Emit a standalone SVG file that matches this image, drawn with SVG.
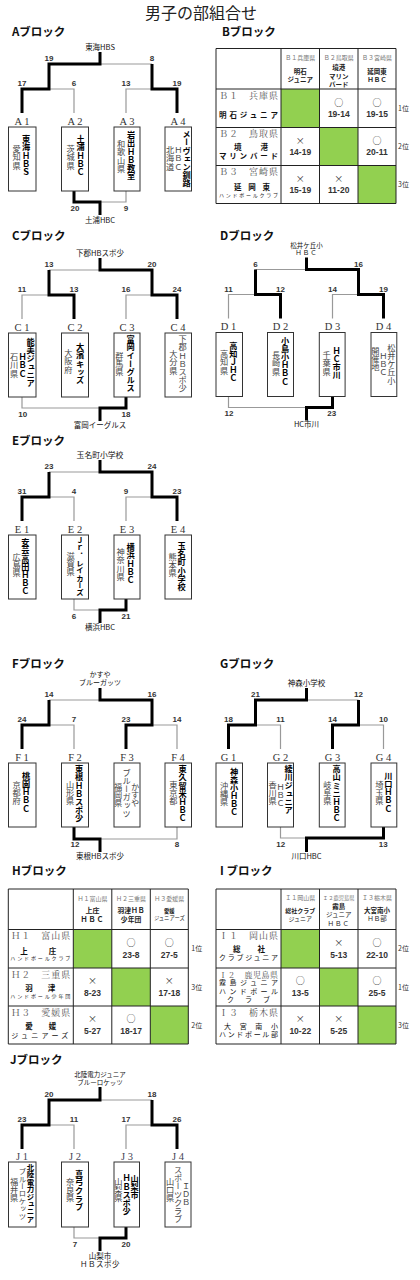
<svg xmlns="http://www.w3.org/2000/svg" width="420" height="1280" viewBox="0 0 420 1280">
<defs>
<style>
text{font-family:"Noto Sans CJK JP","Noto Sans",sans-serif;}
.ttl{font-size:16px;fill:#222;text-anchor:middle;}
.blk{font-size:11.5px;font-weight:bold;fill:#111;}
.sc{font-family:"Liberation Sans",Arial,sans-serif;font-size:8px;font-weight:bold;fill:#333;text-anchor:middle;}
.wn{font-size:7.5px;fill:#111;text-anchor:middle;}
.ws{font-size:6.5px;fill:#111;text-anchor:middle;}
.lb{font-family:"Liberation Serif","Times New Roman",serif;font-size:10.5px;fill:#333;text-anchor:middle;}
.bx{fill:#fff;stroke:#333;stroke-width:1;}
.thk{fill:none;stroke:#000;stroke-width:3;}
.thn{fill:none;stroke:#999;stroke-width:1.2;}
.v{font-size:8.2px;writing-mode:vertical-rl;}
.v7{font-size:7.4px;writing-mode:vertical-rl;}
.tm{font-weight:bold;fill:#000;}
.pf{fill:#444;}
.grid{fill:none;stroke:#222;stroke-width:1;}
.grn{fill:#92D050;}
.hs{font-size:6px;fill:#777;text-anchor:middle;}
.hn{font-size:6.5px;fill:#222;text-anchor:middle;font-weight:bold;}
.hx{font-size:5.3px;fill:#222;text-anchor:middle;}
.rl{font-family:"Liberation Serif","Noto Serif CJK JP",serif;font-size:9px;fill:#555;}
.rn{font-size:7.5px;fill:#111;font-weight:bold;}
.rm{font-size:7px;fill:#111;}
.rs{font-size:5px;fill:#222;}
.mk{font-size:9px;fill:#333;text-anchor:middle;}
.cs{font-family:"Liberation Sans",Arial,sans-serif;font-size:8.5px;fill:#333;text-anchor:middle;font-weight:bold;}
.rk{font-size:7px;fill:#333;}
</style>
</defs>
<rect width="420" height="1280" fill="#fff"/>
<text class="ttl" x="201" y="19">男子の部組合せ</text>

<!-- ===== A block ===== -->
<g id="blockA">
<text class="blk" x="12" y="36">Aブロック</text>
<g id="A-connectors">
<path class="thn" d="M100,64H152 M49,89H74V113 M152,89H126V113 M126,191V202H100"/>
<path class="thk" d="M100,52V64H49V89H22V113 M152,64V89H177V113 M74,191V202H100V215"/>
<text class="wn" x="100" y="50">東海HBS</text>
<text class="sc" x="49" y="61">19</text><text class="sc" x="152" y="61">8</text>
<text class="sc" x="22" y="86">17</text><text class="sc" x="74" y="86">6</text>
<text class="sc" x="126" y="86">13</text><text class="sc" x="177" y="86">19</text>
<text class="sc" x="75" y="210.5">20</text><text class="sc" x="126" y="210.5">9</text>
<text class="wn" x="100" y="223">土浦HBC</text>
</g>
<g id="A1"><text class="lb" x="22" y="124.5">A 1</text><rect class="bx" x="8.5" y="127" width="27.5" height="64"/>
<text class="v tm" x="26" y="135">東海ＨＢＳ</text><text class="v pf" x="16.7" y="145">愛知県</text></g>
<g id="A2"><text class="lb" x="75" y="124.5">A 2</text><rect class="bx" x="61.5" y="127" width="27" height="64"/>
<text class="v tm" x="80.7" y="135">土浦ＨＢＣ</text><text class="v pf" x="70.7" y="145">茨城県</text></g>
<g id="A3"><text class="lb" x="127" y="124.5">A 3</text><rect class="bx" x="114" y="127" width="26" height="64"/>
<text class="v tm" x="131" y="131">岩出ＨＢ教室</text><text class="v pf" x="121" y="140">和歌山県</text></g>
<g id="A4"><text class="lb" x="178" y="124.5">A 4</text><rect class="bx" x="165" y="127" width="26.5" height="64"/>
<text class="v tm" x="186.7" y="130">メーヴェン釧路</text><text class="v pf" x="178.3" y="146">ＨＢＣ</text><text class="v pf" x="170" y="146">北海道</text></g>
</g>

<!-- ===== B block ===== -->
<g id="blockB">
<text class="blk" x="222" y="36">Bブロック</text>
<g transform="translate(216,48.5)">
<g id="B-grid">
<rect class="grn" x="65" y="40.5" width="38.5" height="38.5"/>
<rect class="grn" x="103.5" y="79" width="38.5" height="38"/>
<rect class="grn" x="142" y="117" width="38" height="38"/>
<path class="grid" d="M0,0H180V155H0Z M65,0V155 M103.5,0V155 M142,0V155 M0,40.5H180 M0,79H180 M0,117H180"/>
</g>
<g id="B-header">
<text class="hs" x="84.25" y="11.5">Ｂ１兵庫県</text>
<text class="hs" x="122.75" y="11.5">Ｂ２鳥取県</text>
<text class="hs" x="161" y="11.5">Ｂ３宮崎県</text>
<text class="hn" x="84.25" y="25">明石</text><text class="hn" x="84.25" y="33.3">ジュニア</text>
<text class="hn" x="122.75" y="21.5">境港</text><text class="hn" x="122.75" y="30">マリン</text><text class="hn" x="122.75" y="38.3">バード</text>
<text class="hn" x="161" y="25">延岡東</text><text class="hn" x="161" y="33.5">ＨＢＣ</text>
</g>
<g id="B1">
<text class="rl" x="3" y="50" textLength="59" lengthAdjust="spacing">Ｂ１　兵庫県</text>
<text class="rn" x="3" y="69" textLength="59" lengthAdjust="spacing">明石ジュニア</text>
<text class="mk" x="122.75" y="57">○</text><text class="cs" x="122.75" y="68.5">19-14</text>
<text class="mk" x="161" y="57">○</text><text class="cs" x="161" y="68.5">19-15</text>
<text class="rk" x="182" y="62.3">1位</text>
</g>
<g id="B2">
<text class="rl" x="3" y="88.5" textLength="59" lengthAdjust="spacing">Ｂ２　鳥取県</text>
<text class="rn" x="18" y="101" textLength="34" lengthAdjust="spacing">境　港</text>
<text class="rn" x="3" y="110" textLength="59" lengthAdjust="spacing">マリンバード</text>
<text class="mk" x="84.25" y="95">×</text><text class="cs" x="84.25" y="106.7">14-19</text>
<text class="mk" x="161" y="95">○</text><text class="cs" x="161" y="106.7">20-11</text>
<text class="rk" x="182" y="100.5">2位</text>
</g>
<g id="B3">
<text class="rl" x="3" y="126.5" textLength="59" lengthAdjust="spacing">Ｂ３　宮崎県</text>
<text class="rn" x="18" y="141" textLength="36" lengthAdjust="spacing">延　岡　東</text>
<text class="rs" x="3" y="148.5" textLength="59" lengthAdjust="spacing">ハンドボールクラブ</text>
<text class="mk" x="84.25" y="133">×</text><text class="cs" x="84.25" y="144.7">15-19</text>
<text class="mk" x="122.75" y="133">×</text><text class="cs" x="122.75" y="144.7">11-20</text>
<text class="rk" x="182" y="138.5">3位</text>
</g>
</g>
</g>

<!-- ===== C block ===== -->
<g id="blockC" transform="translate(0,206)">
<text class="blk" x="12" y="34">Cブロック</text>
<g id="C-connectors">
<path class="thn" d="M100,64H49 M49,89H22V113 M152,89H126V113 M22,191V202H100"/>
<path class="thk" d="M49,64V89H74V113 M100,52V64H152V89H177V113 M126,191V202H100V215"/>
<text class="wn" x="100" y="50">下郡HBスポ少</text>
<text class="sc" x="49" y="61">13</text><text class="sc" x="152" y="61">20</text>
<text class="sc" x="22" y="86">11</text><text class="sc" x="74" y="86">13</text>
<text class="sc" x="126" y="86">16</text><text class="sc" x="177" y="86">24</text>
<text class="sc" x="22.7" y="210.5">10</text><text class="sc" x="126" y="210.5">18</text>
<text class="wn" x="100" y="222">富岡イーグルス</text>
</g>
<g id="C1"><text class="lb" x="22" y="124.5">C 1</text><rect class="bx" x="8.5" y="127" width="27.5" height="64"/>
<text class="v tm" x="30.7" y="132">能美ジュニア</text><text class="v tm" x="22.7" y="147">ＨＢＣ</text><text class="v pf" x="14" y="147">石川県</text></g>
<g id="C2"><text class="lb" x="75" y="124.5">C 2</text><rect class="bx" x="61.5" y="127" width="27" height="64"/>
<text class="v tm" x="80" y="137">大濱キッズ</text><text class="v pf" x="68.3" y="143">大阪府</text></g>
<g id="C3"><text class="lb" x="127" y="124.5">C 3</text><rect class="bx" x="114" y="127" width="26" height="64"/>
<text class="v tm" x="130.7" y="129">富岡イーグルス</text><text class="v pf" x="119.3" y="145.7">群馬県</text></g>
<g id="C4"><text class="lb" x="178" y="124.5">C 4</text><rect class="bx" x="165" y="127" width="26.5" height="64"/>
<text class="v pf" x="182.7" y="129">下郡ＨＢスポ少</text><text class="v pf" x="173.3" y="144">大分県</text></g>
</g>

<!-- ===== D block ===== -->
<g id="blockD" transform="translate(206.5,205.5)">
<text class="blk" x="13.5" y="34.5">Dブロック</text>
<g id="D-connectors">
<path class="thn" d="M100,64H49 M49,89H22V113 M152,89H126V113 M22,191V202H100"/>
<path class="thk" d="M49,64V89H74V113 M100,52V64H152V89H177V113 M126,191V202H100V215"/>
<text class="ws" x="100" y="42">松井ケ丘小</text>
<text class="ws" x="100" y="49.5" letter-spacing="1">ＨＢＣ</text>
<text class="sc" x="49" y="61">6</text><text class="sc" x="152" y="61">16</text>
<text class="sc" x="22" y="86">11</text><text class="sc" x="74" y="86">12</text>
<text class="sc" x="126" y="86">14</text><text class="sc" x="177" y="86">19</text>
<text class="sc" x="22.5" y="210.5">12</text><text class="sc" x="125.2" y="210.5">23</text>
<text class="wn" x="100" y="221">HC市川</text>
</g>
<g id="D1"><text class="lb" x="22" y="124.5">D 1</text><rect class="bx" x="9.5" y="127" width="26.5" height="64"/>
<text class="v tm" x="26.8" y="136">高知ＪＨＣ</text><text class="v pf" x="17.5" y="144.5">高知県</text></g>
<g id="D2"><text class="lb" x="74" y="124.5">D 2</text><rect class="bx" x="61" y="127" width="26" height="64"/>
<text class="v tm" x="78.5" y="131">小島小ＨＢＣ</text><text class="v pf" x="69.5" y="145.5">長崎県</text></g>
<g id="D3"><text class="lb" x="126" y="124.5">D 3</text><rect class="bx" x="112.8" y="127" width="25.8" height="64"/>
<text class="v tm" x="130.2" y="141">ＨＣ市川</text><text class="v pf" x="120.2" y="145.5">千葉県</text></g>
<g id="D4"><text class="lb" x="177" y="124.5">D 4</text><rect class="bx" x="164.5" y="127" width="25.8" height="64"/>
<text class="v pf" x="184.8" y="138">松井ケ丘小</text><text class="v pf" x="176.8" y="146">ＨＢＣ</text><text class="v pf" x="168.8" y="141">開催地</text></g>
</g>

<!-- ===== E block ===== -->
<g id="blockE" transform="translate(0,408)">
<text class="blk" x="12" y="37">Eブロック</text>
<g id="E-connectors">
<path class="thn" d="M100,64H49 M49,89H74V113 M152,89H126V113 M74,191V202H100"/>
<path class="thk" d="M49,64V89H22V113 M100,52V64H152V89H177V113 M126,191V202H100V215"/>
<text class="wn" x="100" y="50" style="font-size:7.8px">玉名町小学校</text>
<text class="sc" x="49" y="61">23</text><text class="sc" x="152" y="61">24</text>
<text class="sc" x="22" y="86">31</text><text class="sc" x="74" y="86">4</text>
<text class="sc" x="126" y="86">9</text><text class="sc" x="177" y="86">23</text>
<text class="sc" x="74" y="210.5">6</text><text class="sc" x="126" y="210.5">21</text>
<text class="wn" x="100" y="222">横浜HBC</text>
</g>
<g id="E1"><text class="lb" x="22" y="124.5">E 1</text><rect class="bx" x="8.5" y="127" width="27.5" height="64"/>
<text class="v tm" x="25.3" y="130">安芸高田ＨＢＣ</text><text class="v pf" x="16.5" y="144.7">広島県</text></g>
<g id="E2"><text class="lb" x="75" y="124.5">E 2</text><rect class="bx" x="61.5" y="127" width="27" height="64"/>
<text class="v7 tm" x="80" y="129">Ｊｒ．レイカーズ</text><text class="v pf" x="70.7" y="143.7">滋賀県</text></g>
<g id="E3"><text class="lb" x="127" y="124.5">E 3</text><rect class="bx" x="114" y="127" width="26" height="64"/>
<text class="v tm" x="130.7" y="135">横浜ＨＢＣ</text><text class="v pf" x="120.7" y="140">神奈川県</text></g>
<g id="E4"><text class="lb" x="178" y="124.5">E 4</text><rect class="bx" x="165" y="127" width="26.5" height="64"/>
<text class="v tm" x="181.7" y="133.7">玉名町小学校</text><text class="v pf" x="172.7" y="144.7">熊本県</text></g>
</g>

<!-- ===== F block ===== -->
<g id="blockF" transform="translate(0,636)">
<text class="blk" x="12" y="31.5">Fブロック</text>
<g id="F-connectors">
<path class="thn" d="M100,64H49 M49,89H74V113 M152,89H177V113 M177,191V203H100"/>
<path class="thk" d="M49,64V89H22V113 M100,52V64H152V89H126V113 M74,191V203H100V216"/>
<text class="ws" x="100" y="40.5" style="font-size:7px">かすや</text>
<text class="ws" x="100" y="49" style="font-size:7px">ブルーガッツ</text>
<text class="sc" x="49" y="61">14</text><text class="sc" x="152" y="61">16</text>
<text class="sc" x="22" y="86">24</text><text class="sc" x="74" y="86">7</text>
<text class="sc" x="126" y="86">23</text><text class="sc" x="177" y="86">14</text>
<text class="sc" x="75" y="211">12</text><text class="sc" x="177" y="211">8</text>
<text class="wn" x="100" y="223">東根HBスポ少</text>
</g>
<g id="F1"><text class="lb" x="22" y="124.5">F 1</text><rect class="bx" x="8.5" y="127" width="27.5" height="64"/>
<text class="v tm" x="26" y="135.7">桃園ＨＢＣ</text><text class="v pf" x="16.7" y="144.7">京都府</text></g>
<g id="F2"><text class="lb" x="75" y="124.5">F 2</text><rect class="bx" x="61.5" y="127" width="27" height="64"/>
<text class="v tm" x="79" y="129">東根ＨＢスポ少</text><text class="v pf" x="70" y="144.7">山形県</text></g>
<g id="F3"><text class="lb" x="127" y="124.5">F 3</text><rect class="bx" x="114" y="127" width="26" height="64"/>
<text class="v pf" x="135" y="146.7">かすや</text><text class="v pf" x="126.5" y="132.3">ブルーガッツ</text><text class="v pf" x="118" y="146.7">福岡県</text></g>
<g id="F4"><text class="lb" x="178" y="124.5">F 4</text><rect class="bx" x="165" y="127" width="26.5" height="64"/>
<text class="v tm" x="182.7" y="129">東久留米ＨＢＣ</text><text class="v pf" x="173.3" y="144.7">東京都</text></g>
</g>

<!-- ===== G block ===== -->
<g id="blockG" transform="translate(206.5,636)">
<text class="blk" x="13.5" y="31.5">Gブロック</text>
<g id="G-connectors">
<path class="thn" d="M100,64H152 M49,89H74V113 M152,89H177V113 M74,191V202H100"/>
<path class="thk" d="M100,52V64H49V89H22V113 M152,64V89H126V113 M177,191V202H100V216"/>
<text class="wn" x="100" y="50">神森小学校</text>
<text class="sc" x="49" y="61">21</text><text class="sc" x="152" y="61">12</text>
<text class="sc" x="22" y="86">18</text><text class="sc" x="74" y="86">11</text>
<text class="sc" x="126" y="86">14</text><text class="sc" x="177" y="86">10</text>
<text class="sc" x="74.2" y="210.5">12</text><text class="sc" x="176.8" y="210.5">13</text>
<text class="wn" x="100" y="223">川口HBC</text>
</g>
<g id="G1"><text class="lb" x="22" y="124.5">G 1</text><rect class="bx" x="9.5" y="127" width="26.5" height="64"/>
<text class="v tm" x="27.5" y="131.3">神森小ＨＢＣ</text><text class="v pf" x="17.5" y="145.7">沖縄県</text></g>
<g id="G2"><text class="lb" x="74" y="124.5">G 2</text><rect class="bx" x="61" y="127" width="26" height="64"/>
<text class="v tm" x="82" y="129">綾川ジュニア</text><text class="v pf" x="74" y="146.7">ＨＢＣ</text><text class="v pf" x="66" y="144.7">香川県</text></g>
<g id="G3"><text class="lb" x="126" y="124.5">G 3</text><rect class="bx" x="112.8" y="127" width="25.8" height="64"/>
<text class="v tm" x="130.2" y="129">高山ミニＨＢＣ</text><text class="v pf" x="120.8" y="144.7">岐阜県</text></g>
<g id="G4"><text class="lb" x="177" y="124.5">G 4</text><rect class="bx" x="164.5" y="127" width="25.8" height="64"/>
<text class="v tm" x="181.8" y="135.7">川口ＨＢＣ</text><text class="v pf" x="172.8" y="144.7">埼玉県</text></g>
</g>

<!-- ===== H block ===== -->
<g id="blockH">
<text class="blk" x="12" y="875">Hブロック</text>
<g transform="translate(8.3,889)">
<g id="H-grid">
<rect class="grn" x="65" y="40.5" width="38.5" height="38.5"/>
<rect class="grn" x="103.5" y="79" width="38.5" height="38"/>
<rect class="grn" x="142" y="117" width="38" height="38"/>
<path class="grid" d="M0,0H180V155H0Z M65,0V155 M103.5,0V155 M142,0V155 M0,40.5H180 M0,79H180 M0,117H180"/>
</g>
<g id="H-header">
<text class="hs" x="84.25" y="11.5">Ｈ１富山県</text>
<text class="hs" x="122.75" y="11.5">Ｈ２三重県</text>
<text class="hs" x="161" y="11.5">Ｈ３愛媛県</text>
<text class="hn" x="84.25" y="24" style="font-size:7px">上庄</text><text class="hn" x="84.25" y="32.5" style="font-size:7px" letter-spacing="1">ＨＢＣ</text>
<text class="hn" x="122.75" y="24" style="font-size:6.8px">羽津ＨＢ</text><text class="hn" x="122.75" y="32.5" style="font-size:6.8px">少年団</text>
<text class="hx" x="161" y="24" style="font-weight:bold">愛媛</text><text class="hx" x="161" y="31">ジュニアーズ</text>
</g>
<g id="H1">
<text class="rl" x="3" y="50" textLength="59" lengthAdjust="spacing">Ｈ１　富山県</text>
<text class="rn" x="12" y="64.5" textLength="36" lengthAdjust="spacing">上　庄</text>
<text class="rs" x="2" y="70.5" textLength="60" lengthAdjust="spacing">ハンドボールクラブ</text>
<text class="mk" x="122.75" y="57">○</text><text class="cs" x="122.75" y="68.5">23-8</text>
<text class="mk" x="161" y="57">○</text><text class="cs" x="161" y="68.5">27-5</text>
<text class="rk" x="183" y="62.3">1位</text>
</g>
<g id="H2">
<text class="rl" x="3" y="88.5" textLength="59" lengthAdjust="spacing">Ｈ２　三重県</text>
<text class="rn" x="17" y="102" textLength="30" lengthAdjust="spacing">羽　津</text>
<text class="rs" x="2" y="108.5" textLength="60" lengthAdjust="spacing">ハンドボール少年団</text>
<text class="mk" x="84.25" y="95">×</text><text class="cs" x="84.25" y="106.7">8-23</text>
<text class="mk" x="161" y="95">×</text><text class="cs" x="161" y="106.7">17-18</text>
<text class="rk" x="183" y="100.5">3位</text>
</g>
<g id="H3">
<text class="rl" x="3" y="126.5" textLength="59" lengthAdjust="spacing">Ｈ３　愛媛県</text>
<text class="rn" x="17" y="140" textLength="31" lengthAdjust="spacing">愛　媛</text>
<text class="rm" x="3" y="149" textLength="57" lengthAdjust="spacing">ジュニアーズ</text>
<text class="mk" x="84.25" y="133">×</text><text class="cs" x="84.25" y="144.7">5-27</text>
<text class="mk" x="122.75" y="133">○</text><text class="cs" x="122.75" y="144.7">18-17</text>
<text class="rk" x="183" y="138.5">2位</text>
</g>
</g>
</g>

<!-- ===== I block ===== -->
<g id="blockI">
<text class="blk" x="220" y="875">I ブロック</text>
<g transform="translate(216,889)">
<g id="I-grid">
<rect class="grn" x="65" y="40.5" width="38.5" height="38.5"/>
<rect class="grn" x="103.5" y="79" width="38.5" height="38"/>
<rect class="grn" x="142" y="117" width="38" height="38"/>
<path class="grid" d="M0,0H180V155H0Z M65,0V155 M103.5,0V155 M142,0V155 M0,40.5H180 M0,79H180 M0,117H180"/>
</g>
<g id="I-header">
<text class="hs" x="84.25" y="10.5">Ｉ１岡山県</text>
<text class="hs" x="122.75" y="10.5" style="font-size:5.3px">Ｉ２鹿児島県</text>
<text class="hs" x="161" y="10.5">Ｉ３栃木県</text>
<text class="hn" x="84.25" y="23.5" style="font-size:6px">総社クラブ</text><text class="hn" x="84.25" y="32" style="font-size:6px;font-weight:normal">ジュニア</text>
<text class="hn" x="122.75" y="20">霧島</text><text class="hn" x="122.75" y="28.2" style="font-weight:normal">ジュニア</text><text class="hn" x="122.75" y="36.8" style="font-weight:normal" letter-spacing="1">ＨＢＣ</text>
<text class="hn" x="161" y="23.5">大宮南小</text><text class="hn" x="161" y="32" style="font-weight:normal">ＨＢ部</text>
</g>
<g id="I1">
<text class="rl" x="3" y="50" textLength="59" lengthAdjust="spacing">Ｉ１　岡山県</text>
<text class="rn" x="17" y="62.5" textLength="32" lengthAdjust="spacing">総　社</text>
<text class="rm" x="3" y="71" textLength="59" lengthAdjust="spacing">クラブジュニア</text>
<text class="mk" x="122.75" y="57">×</text><text class="cs" x="122.75" y="68.5">5-13</text>
<text class="mk" x="161" y="57">○</text><text class="cs" x="161" y="68.5">22-10</text>
<text class="rk" x="182" y="62.3">2位</text>
</g>
<g id="I2">
<text class="rl" x="3" y="88.5" textLength="59" lengthAdjust="spacing" style="font-size:8px">Ｉ２　鹿児島県</text>
<text class="rm" x="3" y="96" textLength="59" lengthAdjust="spacing">霧島ジュニア</text>
<text class="rm" x="3" y="105" textLength="59" lengthAdjust="spacing">ハンドボール</text>
<text class="rm" x="11" y="112.5" textLength="43" lengthAdjust="spacing">ク　ラ　ブ</text>
<text class="mk" x="84.25" y="95">○</text><text class="cs" x="84.25" y="106.7">13-5</text>
<text class="mk" x="161" y="95">○</text><text class="cs" x="161" y="106.7">25-5</text>
<text class="rk" x="182" y="100.5">1位</text>
</g>
<g id="I3">
<text class="rl" x="3" y="126.5" textLength="59" lengthAdjust="spacing">Ｉ３　栃木県</text>
<text class="rm" x="8" y="139.5" textLength="54" lengthAdjust="spacing">大　宮　南　小</text>
<text class="rm" x="3" y="148" textLength="59" lengthAdjust="spacing">ハンドボール部</text>
<text class="mk" x="84.25" y="133">×</text><text class="cs" x="84.25" y="144.7">10-22</text>
<text class="mk" x="122.75" y="133">×</text><text class="cs" x="122.75" y="144.7">5-25</text>
<text class="rk" x="182" y="138.5">3位</text>
</g>
</g>
</g>

<!-- ===== J block ===== -->
<g id="blockJ" transform="translate(0,1036)">
<text class="blk" x="10" y="28">Jブロック</text>
<g id="J-connectors">
<path class="thn" d="M100,64H152 M49,89H74V113 M152,89H126V113 M74,191V202H100"/>
<path class="thk" d="M100,51V64H49V89H22V113 M152,64V89H177V113 M126,191V202H100V215"/>
<text class="ws" x="100" y="40.5">北陸電力ジュニア</text>
<text class="ws" x="100" y="48.5">ブルーロケッツ</text>
<text class="sc" x="49" y="61">20</text><text class="sc" x="152" y="61">18</text>
<text class="sc" x="22" y="86">23</text><text class="sc" x="74" y="86">11</text>
<text class="sc" x="126" y="86">17</text><text class="sc" x="177" y="86">26</text>
<text class="sc" x="75" y="210.5">7</text><text class="sc" x="126" y="210.5">20</text>
<text class="wn" x="100" y="222.5">山梨市</text>
<text class="wn" x="100" y="231" letter-spacing="0.5">ＨＢスポ少</text>
</g>
<g id="J1"><text class="lb" x="22" y="123.5" style="fill:#445">J 1</text><rect class="bx" x="8.5" y="126" width="27.5" height="65"/>
<text class="v7 tm" x="30.5" y="127.5">北陸電力ジュニア</text><text class="v7 pf" x="22.5" y="131.7">ブルーロケッツ</text><text class="v pf" x="14" y="141.7">福井県</text></g>
<g id="J2"><text class="lb" x="75" y="123.5" style="fill:#445">J 2</text><rect class="bx" x="61.5" y="126" width="27" height="65"/>
<text class="v tm" x="79" y="134">真弓クラブ</text><text class="v pf" x="70" y="141.7">奈良県</text></g>
<g id="J3"><text class="lb" x="127" y="123.5" style="fill:#445">J 3</text><rect class="bx" x="114" y="126" width="25.5" height="65"/>
<text class="v tm" x="134.6" y="138.3">山梨市</text><text class="v tm" x="126.5" y="138.3">ＨＢスポ少</text><text class="v pf" x="118.4" y="141.7">山梨県</text></g>
<g id="J4"><text class="lb" x="178" y="123.5" style="fill:#445">J 4</text><rect class="bx" x="165" y="126" width="26" height="65"/>
<text class="v pf" x="186" y="145.7">ＩＤＢ</text><text class="v pf" x="178" y="129.7">スポーツクラブ</text><text class="v pf" x="170" y="141.7">山口県</text></g>
</g>
</svg>
